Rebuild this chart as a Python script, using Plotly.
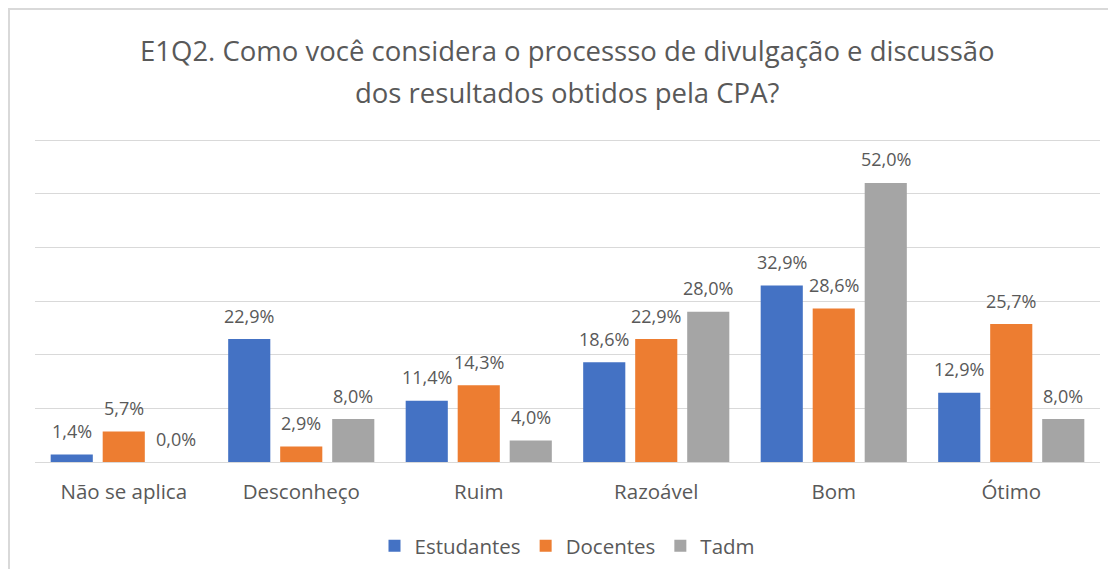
import plotly.graph_objects as go

categories = ["Não se aplica", "Desconheço", "Ruim", "Razoável", "Bom", "Ótimo"]
series_names = ["Estudantes", "Docentes", "Tadm"]
estudantes = [1.4, 22.9, 11.4, 18.6, 32.9, 12.9]
docentes = [5.7, 2.9, 14.3, 22.9, 28.6, 25.7]
tadm = [0.0, 8.0, 4.0, 28.0, 52.0, 8.0]
colors = ["#4472C4", "#ED7D31", "#A5A5A5"]
title_lines = ["E1Q2. Como você considera o processso de divulgação e discussão",
               "dos resultados obtidos pela CPA?"]

# page has an 8px body margin, so the figure is 1100x561 placed at (8, 8)
W, H = 1100, 561
L, R, T, B = 27, 8, 127, 107
plot_h = H - T - B
plot_w = W - L - R
base = H - B
YMAX = 60 * plot_h / 322.0  # keeps 60% at the top gridline position
FONT = "Open Sans, Liberation Sans, sans-serif"
TXT = "#595959"

def fmt(v):
    return f"{v:.1f}%".replace(".", ",")

fig = go.Figure()
all_series = [estudantes, docentes, tadm]
for name, vals, col in zip(series_names, all_series, colors):
    fig.add_trace(go.Bar(name=name, x=categories, y=vals, marker_color=col,
                         marker_line_width=0))

bargap = 0.121
slot = plot_w / len(categories) * (1 - bargap) / 3
annotations = []
for i, vals in enumerate(all_series):
    for c, v in zip(categories, vals):
        annotations.append(dict(x=c, y=v, xref="x", yref="y", text=fmt(v),
                                showarrow=False, xshift=(i - 1) * slot,
                                yshift=23.5, yanchor="middle",
                                font=dict(family=FONT, size=18, color=TXT)))

for line, ypx in zip(title_lines, [42, 84]):
    annotations.append(dict(x=0.5, y=(base - ypx) / plot_h, xref="paper", yref="paper",
                            text=line, showarrow=False, yanchor="middle",
                            font=dict(family=FONT, size=27.5, color=TXT)))

fig.update_layout(
    width=W, height=H,
    margin=dict(l=L, r=R, t=T, b=B, autoexpand=False),
    paper_bgcolor="white", plot_bgcolor="white",
    barmode="group", bargap=bargap, bargroupgap=0.19,
    annotations=annotations,
    showlegend=True,
    legend=dict(orientation="h", x=0.5, xanchor="center",
                y=(base - 538) / plot_h, yanchor="middle",
                font=dict(family=FONT, size=20.5, color=TXT),
                itemwidth=30, traceorder="normal"),
    font=dict(family=FONT, color=TXT),
)
fig.update_yaxes(range=[0, YMAX], tick0=0, dtick=10, showticklabels=False,
                 showgrid=True, gridcolor="#D9D9D9", gridwidth=1,
                 zeroline=False, fixedrange=True, automargin=False)
fig.update_xaxes(showline=True, linecolor="#D9D9D9", linewidth=1,
                 tickfont=dict(family=FONT, size=20.5, color=TXT),
                 ticks="outside", ticklen=11, tickcolor="rgba(0,0,0,0)",
                 automargin=False)

# chart frame border (left and top edges visible)
fig.add_shape(type="rect", xref="paper", yref="paper",
              x0=(1 - L) / plot_w, x1=(W + 20 - L) / plot_w,
              y0=(base - H - 20) / plot_h, y1=(base - 1) / plot_h,
              line=dict(color="#D9D9D9", width=2), fillcolor="rgba(0,0,0,0)",
              layer="below")

fig.write_html("out.html")
